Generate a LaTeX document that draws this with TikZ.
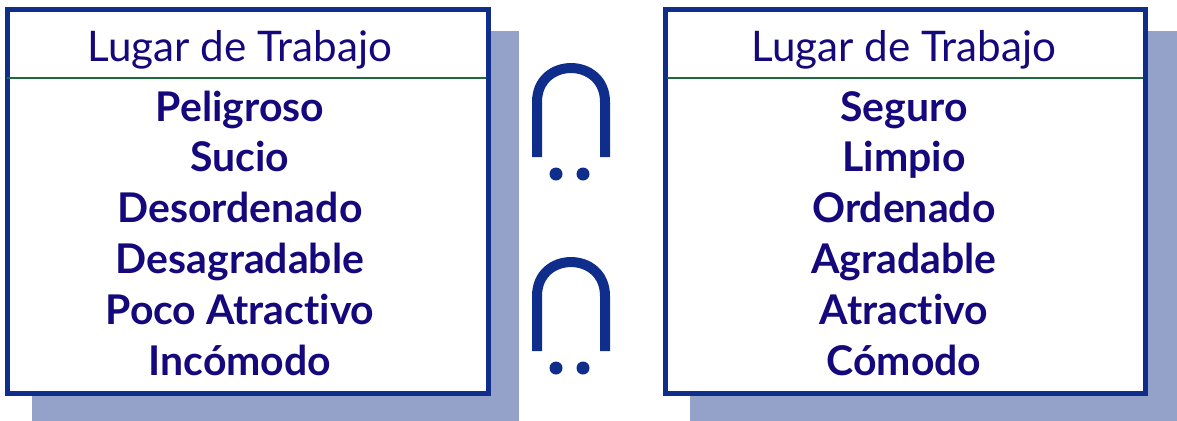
\documentclass[tikz,border=0pt]{standalone}
\usepackage{fontspec}
\setmainfont[Ligatures={NoCommon,NoContextual}]{Lato}
\usetikzlibrary{positioning}
\usetikzlibrary{calc}
\definecolor{frameBlue}{HTML}{0F2D8A}
\definecolor{textBlue}{HTML}{15077C}
\definecolor{shadeBlue}{HTML}{94A2CA}
\definecolor{ruleGreen}{HTML}{1B6B3C}

\begin{document}
\begin{tikzpicture}[x=0.2mm, y=-0.2mm,
    frame/.style={draw=frameBlue, line width=1mm, fill=white},
    head/.style={anchor=base, text=textBlue, inner sep=0pt, font=\fontsize{24}{28}\selectfont},
    word/.style={anchor=base, text=textBlue, inner sep=0pt, font=\fontsize{23.3}{28}\selectfont\bfseries}]

    \useasboundingbox (0, 0) rectangle (1177, 420);

    % Left panel
    \fill[shadeBlue] (32, 31) rectangle (519, 425);
    \draw[frame] (7, 9) rectangle (488.5, 393);
    \draw[ruleGreen, line width=.45mm] (7, 78) -- (486, 78);
    \node[head] (lTitle) at (240, 61) {Lugar de Trabajo};
    \node[word] (lItemA) at (240, 121) {Peligroso};
    \node[word] (lItemB) at (240, 171.8) {Sucio};
    \node[word] (lItemC) at (240, 222.6) {Desordenado};
    \node[word] (lItemD) at (240, 273.4) {Desagradable};
    \node[word] (lItemE) at (240, 324.2) {Poco Atractivo};
    \node[word] (lItemF) at (240, 375) {Incómodo};

    % Right panel
    \fill[shadeBlue] (690, 31) rectangle (1177, 425);
    \draw[frame] (665, 9) rectangle (1145.5, 393);
    \draw[ruleGreen, line width=.45mm] (667, 78) -- (1143, 78);
    \node[head] (rTitle) at (904, 61) {Lugar de Trabajo};
    \node[word] (rItemA) at (904, 121) {Seguro};
    \node[word] (rItemB) at (904, 171.8) {Limpio};
    \node[word] (rItemC) at (904, 222.6) {Ordenado};
    \node[word] (rItemD) at (904, 273.4) {Agradable};
    \node[word] (rItemE) at (904, 324.2) {Atractivo};
    \node[word] (rItemF) at (904, 375) {Cómodo};

    % Symbols between the panels
    \draw[frameBlue, line width=2mm] (537, 157) -- (537, 102) .. controls (537, 56.7) and (605, 56.7) .. (605, 102) -- (605, 157);
    \fill[frameBlue] (556, 174) circle (1.3mm);
    \fill[frameBlue] (583, 174) circle (1.3mm);

    \draw[frameBlue, line width=2mm] (537, 351) -- (537, 296) .. controls (537, 250.7) and (605, 250.7) .. (605, 296) -- (605, 351);
    \fill[frameBlue] (556, 368) circle (1.3mm);
    \fill[frameBlue] (583, 368) circle (1.3mm);

\end{tikzpicture}
\end{document}
